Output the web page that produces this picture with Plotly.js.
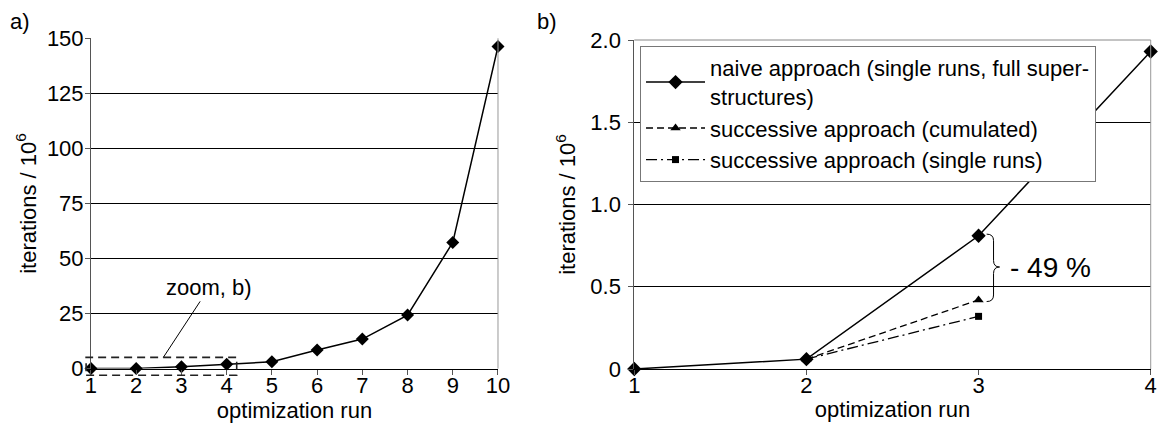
<!DOCTYPE html>
<html>
<head>
<meta charset="utf-8">
<script src="https://cdn.plot.ly/plotly-3.0.1.min.js"></script>
<style>html,body{margin:0;padding:0;background:#fff;}#chart{width:1158px;height:425px;}</style>
</head>
<body>
<div id="chart"></div>
<script>
// ---- data (iterations / 10^6) ----
const runsA = [1, 2, 3, 4, 5, 6, 7, 8, 9, 10];
const itersA = [0.0, 0.06, 0.81, 1.93, 3.1, 8.4, 13.4, 24.3, 57.3, 146.3];
const runsB = [1, 2, 3, 4];
const naiveB = [0.0, 0.06, 0.81, 1.93];
const runsSucc = [2, 3];
const cumulatedB = [0.06, 0.42];
const singleB = [0.06, 0.32];
const tickValsA = [0, 25, 50, 75, 100, 125, 150];
const tickValsB = [0, 0.5, 1.0, 1.5, 2.0];
const tickTextB = ['0', '0.5', '1.0', '1.5', '2.0'];
const seriesNames = [
  'naive approach (single runs, full super-<br>structures)',
  'successive approach (cumulated)',
  'successive approach (single runs)'
];

const FONT = 'Liberation Sans, Arial, sans-serif';
const FS = 22;

const traces = [
  {x: runsA, y: itersA, xaxis: 'x', yaxis: 'y', mode: 'lines+markers', showlegend: false,
   line: {color: '#000', width: 1.5}, marker: {symbol: 'diamond', size: 10, color: '#000'}, cliponaxis: false},
  {x: runsB, y: naiveB, xaxis: 'x2', yaxis: 'y2', mode: 'lines+markers', name: seriesNames[0], legendgroup: 'a',
   line: {color: '#000', width: 1.5}, marker: {symbol: 'diamond', size: 11, color: '#000'}, cliponaxis: false},
  {x: runsSucc, y: cumulatedB, xaxis: 'x2', yaxis: 'y2', mode: 'lines+markers', name: seriesNames[1], legendgroup: 'b',
   line: {color: '#000', width: 1.3, dash: '7px,4px'}, marker: {symbol: 'triangle-up', size: 9, color: '#000'}, cliponaxis: false},
  {x: runsSucc, y: singleB, xaxis: 'x2', yaxis: 'y2', mode: 'lines+markers', name: seriesNames[2], legendgroup: 'c',
   line: {color: '#000', width: 1.3, dash: '11px,4px,2px,4px'}, marker: {symbol: 'square', size: 7, color: '#000'}, cliponaxis: false}
];

const axisCommon = {
  showline: true, linecolor: '#555', linewidth: 1, ticks: 'outside', ticklen: 5, tickcolor: '#555',
  zeroline: false, tickfont: {family: FONT, size: FS, color: '#000'}, fixedrange: true
};

const layout = {
  width: 1158, height: 425,
  margin: {l: 0, r: 0, t: 0, b: 0},
  paper_bgcolor: '#fff', plot_bgcolor: '#fff',
  font: {family: FONT, size: FS, color: '#000'},
  showlegend: true,
  legend: {x: 0.5527, y: 0.8918, xanchor: 'left', yanchor: 'top', bgcolor: '#fff',
           bordercolor: '#777', borderwidth: 1, font: {family: FONT, size: FS, color: '#000'},
           itemwidth: 59, tracegroupgap: 0},
  xaxis: Object.assign({}, axisCommon, {
    domain: [0.07858, 0.43005], range: [1, 10], tickvals: runsA, showgrid: false, anchor: 'y',
    linecolor: '#000', ticklabelstandoff: -8,
    title: {text: 'optimization run', font: {family: FONT, size: FS}, standoff: 4}
  }),
  yaxis: Object.assign({}, axisCommon, {
    domain: [0.13271, 0.90988], range: [0, 150], tickvals: tickValsA, showgrid: true,
    gridcolor: '#000', gridwidth: 1, anchor: 'x', ticklabelstandoff: -3,
    title: {text: 'iterations / 10<sup>6</sup>', font: {family: FONT, size: FS}, standoff: 4}
  }),
  xaxis2: Object.assign({}, axisCommon, {
    domain: [0.54775, 0.99370], range: [1, 4], tickvals: runsB, showgrid: false, anchor: 'y2',
    linecolor: '#000', ticklabelstandoff: -8,
    title: {text: 'optimization run', font: {family: FONT, size: FS}, standoff: 4}
  }),
  yaxis2: Object.assign({}, axisCommon, {
    domain: [0.13176, 0.90588], range: [0, 2], tickvals: tickValsB, ticktext: tickTextB, showgrid: true,
    gridcolor: '#000', gridwidth: 1, anchor: 'x2', ticklabelstandoff: 3,
    title: {text: 'iterations / 10<sup>6</sup>', font: {family: FONT, size: FS}, standoff: 8}
  }),
  shapes: [
    {type: 'line', xref: 'x domain', yref: 'y domain', x0: 1, x1: 1, y0: 0, y1: 1, line: {color: '#999', width: 1}},
    {type: 'line', xref: 'x2 domain', yref: 'y2 domain', x0: 1, x1: 1, y0: 0, y1: 1, line: {color: '#999', width: 1}},
    {type: 'line', xref: 'x2 domain', yref: 'y2 domain', x0: 0, x1: 1, y0: 1, y1: 1, line: {color: '#888', width: 1}},
    {type: 'rect', xref: 'x domain', yref: 'y domain', x0: -0.012, x1: 0.358, y0: -0.02, y1: 0.034,
     line: {color: '#222', width: 1.6, dash: '8px,5px'}, fillcolor: 'rgba(0,0,0,0)'},
    {type: 'path', xref: 'x2', yref: 'y2', line: {color: '#000', width: 1},
     path: 'M3.047,0.82 Q3.087,0.82 3.087,0.78 L3.087,0.66 Q3.087,0.62 3.122,0.62 Q3.087,0.62 3.087,0.58 L3.087,0.45 Q3.087,0.41 3.047,0.41'}
  ],
  annotations: [
    {xref: 'paper', yref: 'paper', x: 8 / 1158, y: 1 - 22 / 425, xanchor: 'left', yanchor: 'middle',
     text: 'a)', showarrow: false, font: {family: FONT, size: FS}},
    {xref: 'paper', yref: 'paper', x: 535 / 1158, y: 1 - 21 / 425, xanchor: 'left', yanchor: 'middle',
     text: 'b)', showarrow: false, font: {family: FONT, size: FS}},
    {xref: 'x', yref: 'y', x: 2.6, y: 5.1, text: 'zoom, b)', showarrow: true, arrowhead: 0, arrowwidth: 1,
     arrowcolor: '#000', ax: 46, ay: -70, font: {family: FONT, size: FS}},
    {xref: 'x2', yref: 'y2', x: 3.169, y: 0.62, xanchor: 'left', yanchor: 'middle', text: '- 49 %',
     showarrow: false, font: {family: FONT, size: 28}}
  ]
};

Plotly.newPlot('chart', traces, layout, {staticPlot: true, displayModeBar: false});
</script>
</body>
</html>
